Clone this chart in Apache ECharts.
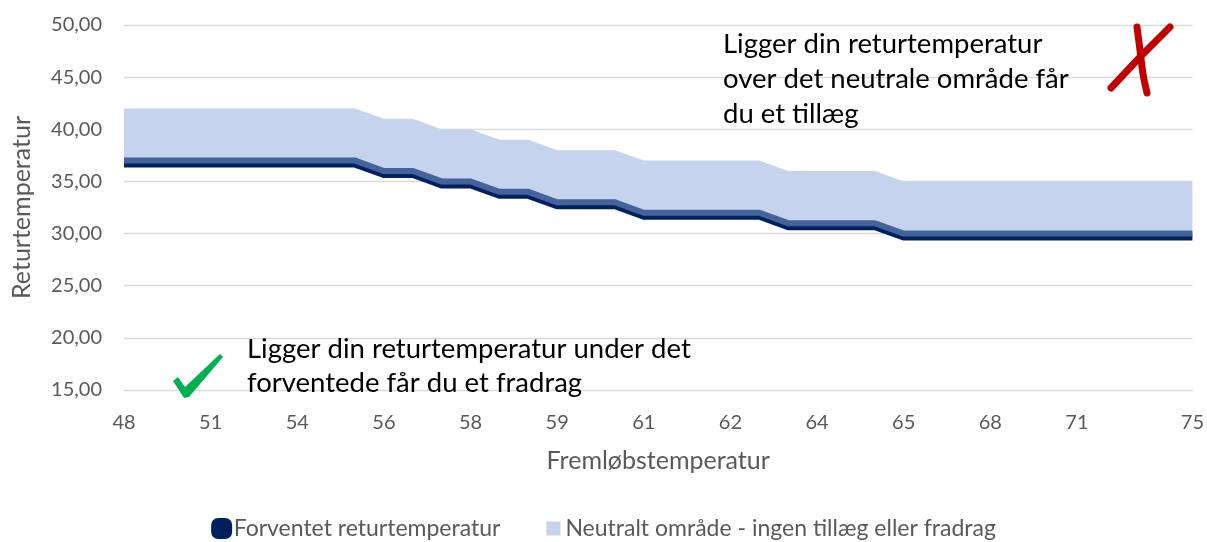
<!DOCTYPE html>
<html>
<head>
<meta charset="utf-8">
<script src="https://cdn.jsdelivr.net/npm/echarts@6/dist/echarts.min.js"></script>
<style>
  html, body { margin: 0; padding: 0; background: #fff; }
  #chart { width: 1207px; height: 542px; }
</style>
</head>
<body>
<div id="chart"></div>
<script>
// Fremløbstemperatur (x categories)
const flowTemps = [48, 49, 50, 51, 52, 53, 54, 55, 55, 56, 57, 57, 58, 58, 59, 59, 60, 60, 61,
  61, 62, 62, 63, 63, 64, 64, 65, 65, 66, 67, 68, 69, 70, 71, 72, 73, 74, 75];
// indexes of the categories that get a visible tick label
const shownLabels = [0, 3, 6, 9, 12, 15, 18, 21, 24, 27, 30, 33, 37];

// Forventet returtemperatur
const expectedReturn = [37, 37, 37, 37, 37, 37, 37, 37, 37, 36, 36, 35, 35, 34, 34, 33, 33, 33, 32,
  32, 32, 32, 32, 31, 31, 31, 31, 30, 30, 30, 30, 30, 30, 30, 30, 30, 30, 30];
// width of the neutral band stacked above it
const neutralBand = [5, 5, 5, 5, 5, 5, 5, 5, 5, 5, 5, 5, 5, 5, 5, 5, 5, 5, 5,
  5, 5, 5, 5, 5, 5, 5, 5, 5, 5, 5, 5, 5, 5, 5, 5, 5, 5, 5];

const font = 'Lato';
const grey = '#595959';

const chart = echarts.init(document.getElementById('chart'));

chart.setOption({
  animation: false,
  textStyle: { fontFamily: font },
  grid: { left: 124, right: 14, top: 25, bottom: 152 },
  legend: {
    bottom: -3,
    left: 'center',
    itemGap: 46,
    itemWidth: 14,
    itemHeight: 14,
    textStyle: { color: grey, fontSize: 23, fontFamily: font },
    data: [
      { name: 'Forventet returtemperatur', icon: 'roundRect',
        itemStyle: { color: '#002060', borderColor: '#002060', borderWidth: 7 } },
      { name: 'Neutralt område - ingen tillæg eller fradrag', icon: 'rect',
        itemStyle: { color: '#c5d3ec', borderWidth: 0 } }
    ]
  },
  xAxis: {
    type: 'category',
    data: flowTemps,
    boundaryGap: false,
    name: 'Fremløbstemperatur',
    nameLocation: 'middle',
    nameGap: 58,
    nameTextStyle: { color: grey, fontSize: 25, fontFamily: font },
    axisLine: { lineStyle: { color: '#d9d9d9', width: 1 } },
    axisTick: { show: false },
    axisLabel: {
      color: grey,
      fontSize: 20,
      margin: 23,
      interval: (idx) => shownLabels.indexOf(idx) >= 0
    }
  },
  yAxis: {
    type: 'value',
    min: 15,
    max: 50,
    interval: 5,
    name: 'Returtemperatur',
    nameLocation: 'middle',
    nameGap: 90,
    nameTextStyle: { color: grey, fontSize: 25, fontFamily: font },
    axisLine: { show: false },
    axisTick: { show: false },
    splitLine: { lineStyle: { color: '#d9d9d9', width: 1.3 } },
    axisLabel: {
      color: grey,
      fontSize: 20,
      margin: 22,
      formatter: (v) => v.toFixed(2).replace('.', ',')
    }
  },
  series: [
    {
      name: 'Forventet returtemperatur',
      type: 'line',
      stack: 'temp',
      data: expectedReturn,
      symbol: 'none',
      z: 5,
      color: '#002060',
      lineStyle: {
        color: '#45639b',
        width: 6,
        shadowColor: '#002060',
        shadowBlur: 0,
        shadowOffsetY: 4,
        join: 'miter'
      }
    },
    {
      name: 'Neutralt område - ingen tillæg eller fradrag',
      type: 'line',
      stack: 'temp',
      data: neutralBand,
      symbol: 'none',
      z: 2,
      color: '#c5d3ec',
      lineStyle: { width: 0 },
      areaStyle: { color: '#c5d3ec', opacity: 1 }
    }
  ],
  graphic: [
    {
      type: 'text', left: 723, top: 27, z: 10,
      style: {
        text: 'Ligger din returtemperatur\nover det neutrale område får\ndu et tillæg',
        font: '27.5px Lato', fill: '#000', lineHeight: 35
      }
    },
    {
      type: 'text', left: 247, top: 332, z: 10,
      style: {
        text: 'Ligger din returtemperatur under det\nforventede får du et fradrag',
        font: '27.5px Lato', fill: '#000', lineHeight: 34
      }
    },
    // red cross
    {
      type: 'polyline', z: 10,
      shape: { points: [[1137, 27], [1140, 50], [1143, 74], [1147, 93]], smooth: 0.3 },
      style: { stroke: '#c00000', lineWidth: 7, lineCap: 'round', fill: null }
    },
    {
      type: 'polyline', z: 10,
      shape: { points: [[1170, 27], [1140, 57], [1111, 88]] },
      style: { stroke: '#c00000', lineWidth: 7, lineCap: 'round', fill: null }
    },
    // green check
    {
      type: 'polygon', z: 10,
      shape: { points: [[173, 381], [178, 377], [185, 387], [220, 354], [223, 357], [189, 397], [184, 398]] },
      style: { fill: '#00b050' }
    }
  ]
});
</script>
</body>
</html>
